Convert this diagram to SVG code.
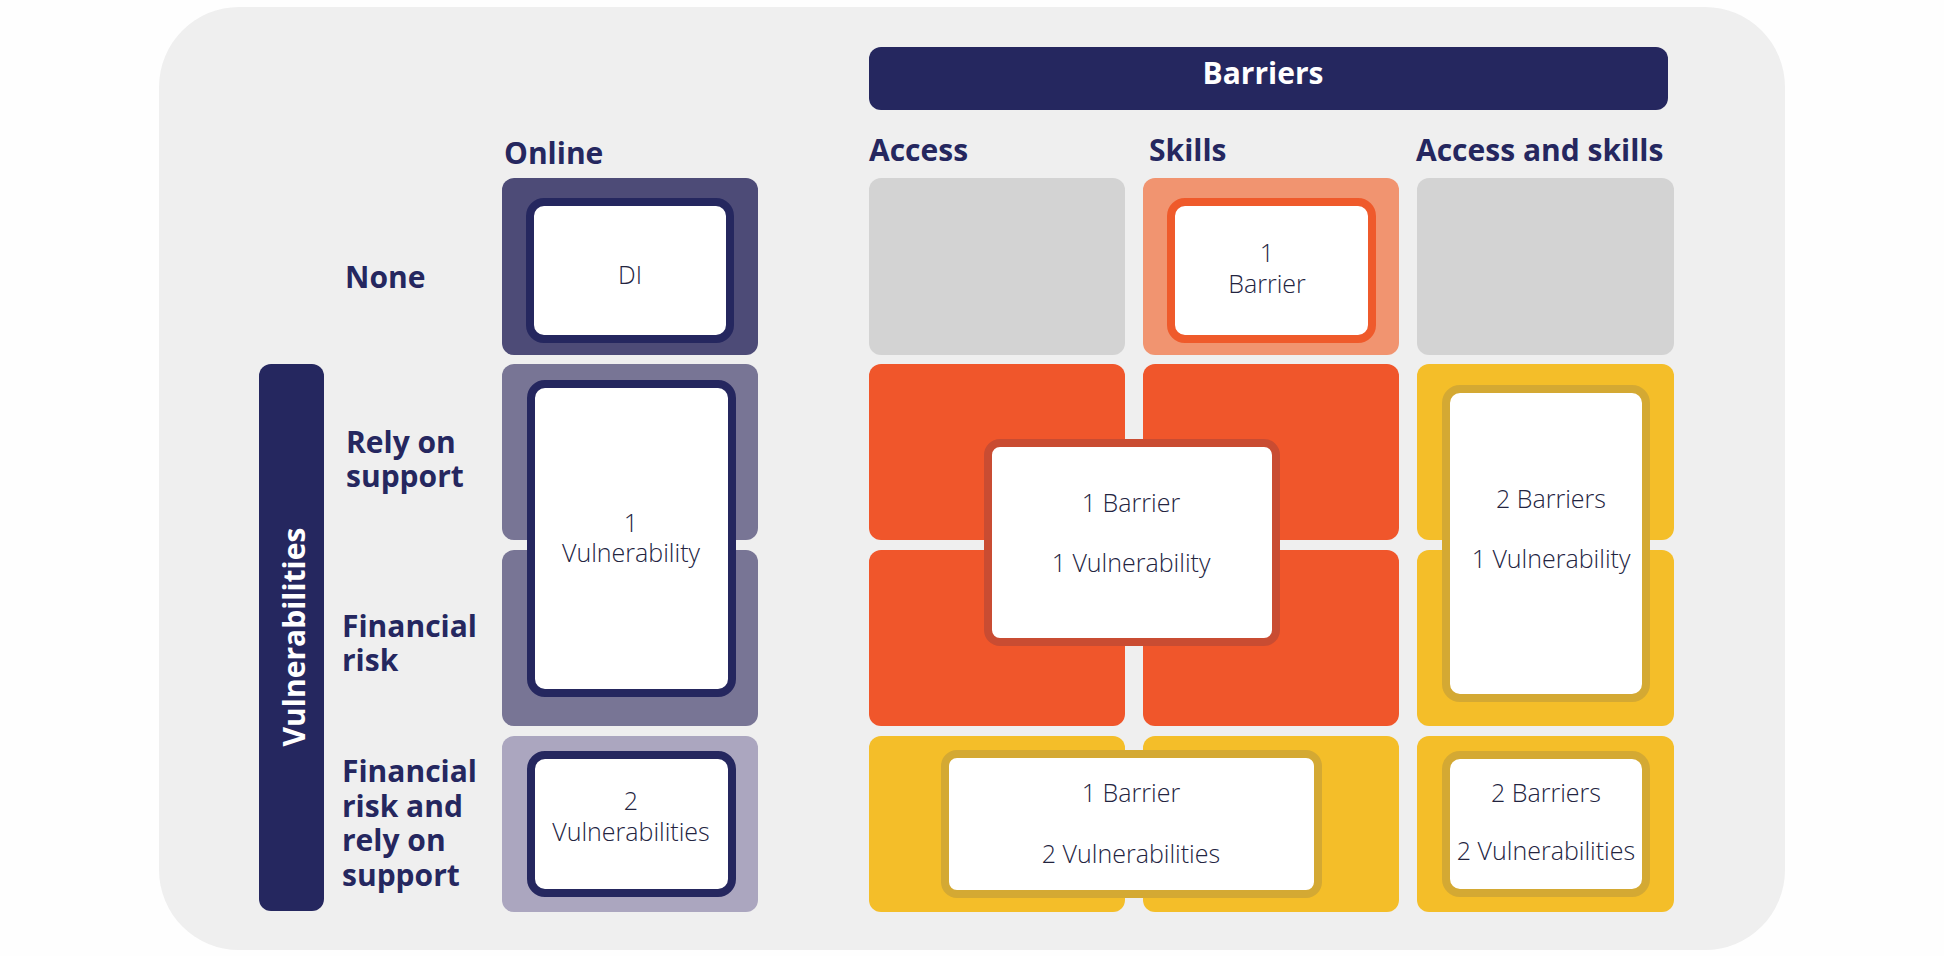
<svg xmlns="http://www.w3.org/2000/svg" width="1944" height="956" viewBox="0 0 1944 956">
<style>
.hdr{font-family:"Open Sans","Liberation Sans",sans-serif;font-weight:700;font-size:30px;fill:#25275f}
.lbl{font-family:"Open Sans","Liberation Sans",sans-serif;font-weight:700;font-size:30px;fill:#25275f}
.wt{font-family:"Open Sans","Liberation Sans",sans-serif;font-weight:700;fill:#ffffff}
.box{fill:#ffffff;stroke-width:8}
.txt{font-family:"Open Sans","Liberation Sans",sans-serif;font-weight:300;font-size:25px;fill:#23243f;text-anchor:middle}
.nv{fill:#25275f}
.on1{fill:#4d4b77}
.on2{fill:#787595}
.on3{fill:#aba6bf}
.gr{fill:#d3d3d3}
.lo{fill:#f19470}
.or{fill:#f0562b}
.ye{fill:#f4be29}
.bn{stroke:#25275f}
.bo{stroke:#ef5a2b}
.br{stroke:#c94c32}
.by{stroke:#d4a933}
</style>
<rect x="0" y="0" width="1944" height="956" fill="#fefefe"/>
<rect x="159" y="7" width="1626" height="943" rx="80" fill="#efefef"/>

<g id="barriers-header">
<rect class="nv" x="869" y="47" width="799" height="63" rx="12"/>
<text class="wt" x="1263" y="84" font-size="30" text-anchor="middle">Barriers</text>
</g>
<g id="vulnerabilities-header">
<rect class="nv" x="259" y="364" width="65" height="547" rx="12"/>
<text class="wt" font-size="30" text-anchor="middle" transform="translate(305,637) rotate(-90)">Vulnerabilities</text>
</g>

<g id="col-headers">
<text class="hdr" x="504" y="164">Online</text>
<text class="hdr" x="869" y="161">Access</text>
<text class="hdr" x="1149" y="161">Skills</text>
<text class="hdr" x="1416" y="161" font-size="31">Access and skills</text>
</g>
<g id="row-headers">
<text class="lbl" x="345" y="288">None</text>
<text class="lbl" x="346" y="453">Rely on<tspan x="346" y="487">support</tspan></text>
<text class="lbl" x="342" y="637">Financial<tspan x="342" y="671">risk</tspan></text>
<text class="lbl" x="342" y="782">Financial<tspan x="342" y="817">risk and</tspan><tspan x="342" y="851">rely on</tspan><tspan x="342" y="886">support</tspan></text>
</g>

<g id="cells">
<rect class="on1" x="502" y="178" width="256" height="177" rx="12"/>
<rect class="on2" x="502" y="364" width="256" height="176" rx="12"/>
<rect class="on2" x="502" y="550" width="256" height="176" rx="12"/>
<rect class="on3" x="502" y="736" width="256" height="176" rx="12"/>
<rect class="gr" x="869" y="178" width="256" height="177" rx="12"/>
<rect class="lo" x="1143" y="178" width="256" height="177" rx="12"/>
<rect class="gr" x="1417" y="178" width="257" height="177" rx="12"/>
<rect class="or" x="869" y="364" width="256" height="176" rx="12"/>
<rect class="or" x="1143" y="364" width="256" height="176" rx="12"/>
<rect class="or" x="869" y="550" width="256" height="176" rx="12"/>
<rect class="or" x="1143" y="550" width="256" height="176" rx="12"/>
<rect class="ye" x="1417" y="364" width="257" height="176" rx="12"/>
<rect class="ye" x="1417" y="550" width="257" height="176" rx="12"/>
<rect class="ye" x="869" y="736" width="256" height="176" rx="12"/>
<rect class="ye" x="1143" y="736" width="256" height="176" rx="12"/>
<rect class="ye" x="1417" y="736" width="257" height="176" rx="12"/>
</g>

<g id="node-di">
<rect class="box bn" x="530" y="202" width="200" height="137" rx="14"/>
<text class="txt" x="630" y="284">DI</text>
</g>
<g id="node-online-1v">
<rect class="box bn" x="531" y="384" width="201" height="309" rx="14"/>
<text class="txt" x="631" y="532">1<tspan x="631" y="562">Vulnerability</tspan></text>
</g>
<g id="node-online-2v">
<rect class="box bn" x="531" y="755" width="201" height="138" rx="14"/>
<text class="txt" x="631" y="810">2<tspan x="631" y="841">Vulnerabilities</tspan></text>
</g>
<g id="node-skills-1b">
<rect class="box bo" x="1171" y="202" width="201" height="137" rx="14"/>
<text class="txt" x="1267" y="262">1<tspan x="1267" y="293">Barrier</tspan></text>
</g>
<g id="node-1b-1v">
<rect class="box br" x="988" y="443" width="288" height="199" rx="12"/>
<text class="txt" x="1131" y="512">1 Barrier<tspan x="1131" y="572">1 Vulnerability</tspan></text>
</g>
<g id="node-2b-1v">
<rect class="box by" x="1446" y="389" width="200" height="309" rx="14"/>
<text class="txt" x="1551" y="508">2 Barriers<tspan x="1551" y="568">1 Vulnerability</tspan></text>
</g>
<g id="node-1b-2v">
<rect class="box by" x="945" y="754" width="373" height="140" rx="12"/>
<text class="txt" x="1131" y="802">1 Barrier<tspan x="1131" y="863">2 Vulnerabilities</tspan></text>
</g>
<g id="node-2b-2v">
<rect class="box by" x="1446" y="755" width="200" height="138" rx="14"/>
<text class="txt" x="1546" y="802">2 Barriers<tspan x="1546" y="860">2 Vulnerabilities</tspan></text>
</g>
<g id="connectors"/>
</svg>
